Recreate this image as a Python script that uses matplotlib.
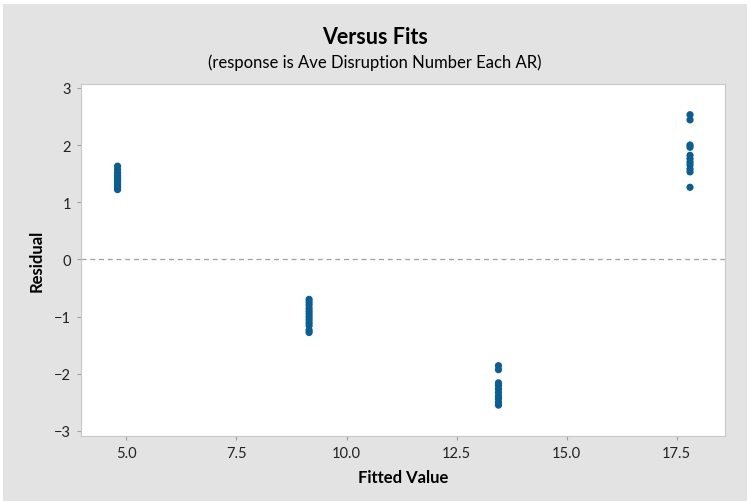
import numpy as np
import matplotlib.pyplot as plt
from matplotlib.patches import Rectangle

# Residuals grouped by fitted value
fit_groups = [4.8, 9.15, 13.45, 17.8]
residuals = [
    [1.63, 1.57, 1.52, 1.48, 1.45, 1.42, 1.40, 1.37, 1.34, 1.30, 1.26, 1.22],
    [-0.70, -0.75, -0.80, -0.86, -0.91, -0.96, -1.01, -1.06, -1.11, -1.16, -1.24, -1.28],
    [-1.86, -1.93, -2.16, -2.21, -2.27, -2.33, -2.39, -2.44, -2.50, -2.55],
    [2.53, 2.44, 2.00, 1.96, 1.82, 1.76, 1.70, 1.65, 1.58, 1.53, 1.26],
]
x_ticks = [5.0, 7.5, 10.0, 12.5, 15.0, 17.5]
y_ticks = [-3, -2, -1, 0, 1, 2, 3]

plt.rcParams['font.family'] = ['Lato', 'DejaVu Sans']

fig = plt.figure(figsize=(7.5, 5.02), dpi=100, facecolor='white')
fig.patches.append(Rectangle((0.004, 0.0), 0.992, 0.99, transform=fig.transFigure,
                             facecolor='#e3e3e3', edgecolor='none', zorder=-10))

ax = fig.add_axes([0.108, 0.1295, 0.859, 0.7015])
ax.set_facecolor('white')

xs = np.concatenate([[f] * len(r) for f, r in zip(fit_groups, residuals)])
ys = np.concatenate(residuals)
ax.scatter(xs, ys, s=27, color='#0b5e94', edgecolors='none', zorder=3)

ax.axhline(0, color='#a0a0a0', linestyle=(0, (4, 3)), linewidth=0.9, zorder=2)

ax.set_xlim(3.97, 18.6)
ax.set_ylim(-3.09, 3.07)
ax.set_xticks(x_ticks)
ax.set_xticklabels([f'{v:.1f}' for v in x_ticks])
ax.set_yticks(y_ticks)

for s in ax.spines.values():
    s.set_color('#c8c8c8')
    s.set_linewidth(0.8)
ax.tick_params(length=3, color='#a0a0a0', labelsize=10.5, labelcolor='#222222', pad=4)

ax.set_xlabel('Fitted Value', fontsize=12, fontweight='bold', labelpad=7)
ax.set_ylabel('Residual', fontsize=12, fontweight='bold', labelpad=7)

fig.text(0.5, 0.925, 'Versus Fits', ha='center', va='center', fontsize=15.5, fontweight='bold')
fig.text(0.5, 0.876, '(response is Ave Disruption Number Each AR)', ha='center', va='center', fontsize=12)

plt.savefig('out.png', dpi=100, facecolor=fig.get_facecolor())
